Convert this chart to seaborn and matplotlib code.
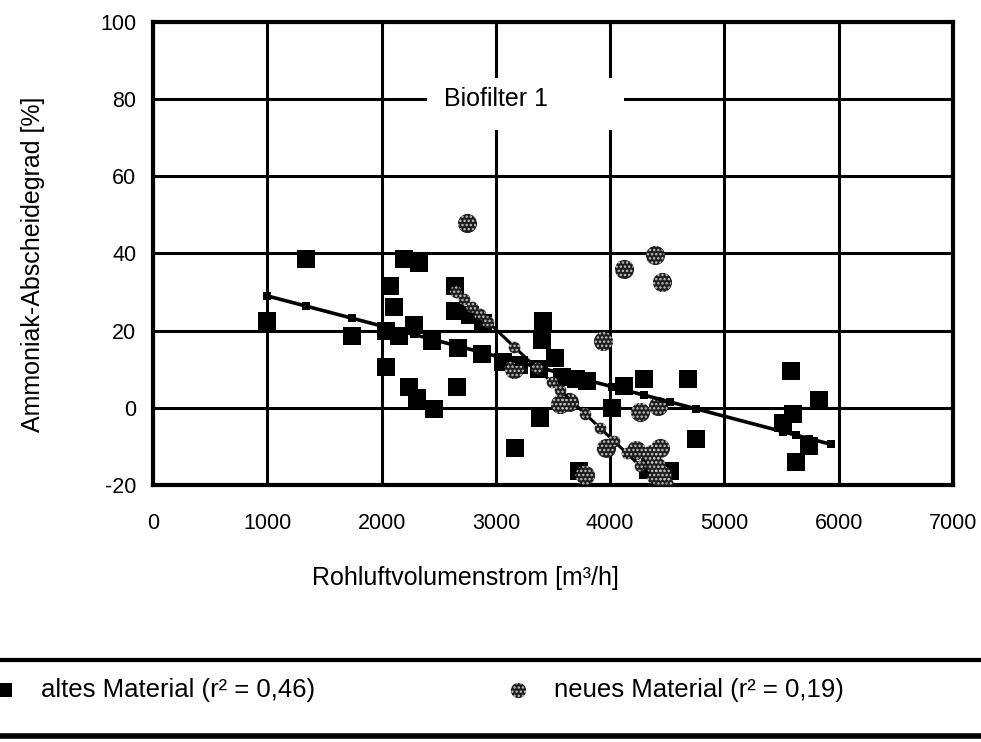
import matplotlib
matplotlib.use("Agg")
import numpy as np
import pandas as pd
import seaborn as sns
import matplotlib.pyplot as plt
from matplotlib.lines import Line2D
from matplotlib.patches import Rectangle
from matplotlib.legend_handler import HandlerTuple

# ---------------- data ----------------
altes_x = [1000, 1340, 1740, 2040, 2040, 2070, 2110, 2150, 2200, 2240,
           2280, 2310, 2330, 2440, 2460, 2640, 2640, 2660, 2670, 2770,
           2880, 2890, 3060, 3170, 3200, 3380, 3390, 3400, 3410, 3520,
           3580, 3700, 3730, 3800, 4020, 4120, 4300, 4330, 4350, 4520,
           4680, 4750, 5510, 5580, 5600, 5630, 5740, 5830]
altes_y = [22.5, 38.5, 18.5, 20, 10.5, 31.5, 26, 18.5, 38.5, 5.5,
           21.5, 2.5, 37.5, 17.3, -0.3, 31.5, 25, 5.5, 15.5, 24,
           14, 22, 12, -10.5, 11, 10, -2.7, 17.5, 22.5, 13,
           8, 7.5, -16.5, 7, 0, 5.7, 7.5, -16, -14.5, -16.5,
           7.5, -8, -4, 9.5, -1.5, -14, -10, 2]

neues_x = [2750, 3160, 3560, 3640, 3780, 3940, 3960, 4120, 4230, 4260,
           4370, 4390, 4400, 4420, 4440, 4450, 4450, 4470]
neues_y = [48, 10, 1, 1.5, -17.5, 17.3, -10.5, 36, -11, -1,
           -12, 39.5, -15, 0.5, -10.5, 32.5, -17.5, -20]

# trend lines (intercept, slope) and the x positions of their markers
altes_fit = (36.8, -0.0078)
neues_fit = (104.3, -0.028)
altes_fit_x = [1000, 1340, 1740, 2040, 2150, 2280, 2440, 2660, 2880, 3060,
               3200, 3400, 3580, 3800, 4020, 4300, 4520, 4750, 5510, 5630,
               5740, 5930]
neues_fit_x = [2650, 2720, 2790, 2860, 2930, 3160, 3360, 3490, 3560, 3670,
               3780, 3910, 4030, 4145, 4260, 4375, 4450]

x_ticks = [0, 1000, 2000, 3000, 4000, 5000, 6000, 7000]
y_ticks = [-20, 0, 20, 40, 60, 80, 100]

label_alt = "altes Material (r² = 0,46)"
label_neu = "neues Material (r² = 0,19)"
title_txt = "Biofilter 1"
xlabel_txt = "Rohluftvolumenstrom [m³/h]"
ylabel_txt = "Ammoniak-Abscheidegrad [%]"

# ---------------- style ----------------
sns.set_style("white")
plt.rcParams["font.family"] = ["Liberation Sans", "DejaVu Sans"]
plt.rcParams["hatch.linewidth"] = 1.1
plt.rcParams["axes.unicode_minus"] = False
for k in ["text.color", "axes.labelcolor", "xtick.color", "ytick.color"]:
    plt.rcParams[k] = "black"

fig = plt.figure(figsize=(9.81, 7.42), dpi=100)
ax = fig.add_axes([0.156, 0.3464, 0.8155, 0.624])

df_alt = pd.DataFrame({"x": altes_x, "y": altes_y})
df_neu = pd.DataFrame({"x": neues_x, "y": neues_y})
fx_a = np.array(altes_fit_x, dtype=float)
fx_n = np.array(neues_fit_x, dtype=float)
df_fit_a = pd.DataFrame({"x": fx_a, "y": altes_fit[0] + altes_fit[1] * fx_a})
df_fit_n = pd.DataFrame({"x": fx_n, "y": neues_fit[0] + neues_fit[1] * fx_n})

DARK = "#1e1e1e"
DOT = "#c8c8c8"

# data points
sns.scatterplot(data=df_alt, x="x", y="y", marker="s", s=150, color="black",
                linewidth=0, legend=False, ax=ax, zorder=3)
sns.scatterplot(data=df_neu, x="x", y="y", marker="o", s=190, color=DARK,
                linewidth=0, legend=False, ax=ax, zorder=3)
sns.scatterplot(data=df_neu, x="x", y="y", marker="o", s=190, facecolor="none",
                edgecolor=DOT, linewidth=0, hatch="....", legend=False,
                ax=ax, zorder=4)

# trend lines
sns.lineplot(data=df_fit_a, x="x", y="y", color="black", linewidth=2.6,
             marker="s", markersize=6, markeredgewidth=0, legend=False,
             ax=ax, zorder=5)
sns.lineplot(data=df_fit_n, x="x", y="y", color="black", linewidth=2.2,
             legend=False, ax=ax, zorder=5)
sns.scatterplot(data=df_fit_n, x="x", y="y", marker="o", s=70, color=DARK,
                linewidth=0, legend=False, ax=ax, zorder=6)
sns.scatterplot(data=df_fit_n, x="x", y="y", marker="o", s=70, facecolor="none",
                edgecolor=DOT, linewidth=0, hatch="....", legend=False,
                ax=ax, zorder=7)

# axes
ax.set_xlim(x_ticks[0], x_ticks[-1])
ax.set_ylim(y_ticks[0], y_ticks[-1])
ax.set_xticks(x_ticks)
ax.set_yticks(y_ticks)
ax.grid(True, color="black", linewidth=2.2)
ax.set_axisbelow(True)
for sp in ax.spines.values():
    sp.set_visible(True)
    sp.set_color("black")
    sp.set_linewidth(3)
ax.tick_params(axis="both", length=0, labelsize=15.5, colors="black")
ax.tick_params(axis="x", pad=20)
ax.tick_params(axis="y", pad=12)
ax.set_xlabel(xlabel_txt, fontsize=18, color="black")
ax.set_ylabel(ylabel_txt, fontsize=18, color="black")
ax.xaxis.set_label_coords(0.39, -0.175)
ax.yaxis.set_label_coords(-0.135, 0.477)

# label box "Biofilter 1"
ax.add_patch(Rectangle((2400, 72), 1720, 13.5, facecolor="white",
                       edgecolor="none", zorder=2.5))
ax.text(3000, 80, title_txt, ha="center", va="center", fontsize=18,
        color="black", zorder=8)

# legend between two rules
fig.add_artist(Line2D([0, 1], [0.1105, 0.1105], color="black", lw=3,
                      transform=fig.transFigure))
fig.add_artist(Line2D([0, 1], [0.008, 0.008], color="black", lw=4,
                      transform=fig.transFigure))
colls = ax.collections
h_alt = colls[0]
h_neu = (colls[1], colls[2])
leg = fig.legend(handles=[h_alt, h_neu], labels=[label_alt, label_neu],
                 loc="center left", bbox_to_anchor=(-0.005, 0.07), ncol=2,
                 frameon=False, fontsize=18.5, handlelength=0.8,
                 handletextpad=1.0, columnspacing=7.5, borderaxespad=0,
                 borderpad=0, markerscale=0.8,
                 handler_map={tuple: HandlerTuple(ndivide=1)})
for t in leg.get_texts():
    t.set_color("black")

fig.savefig("out.png", dpi=100)
